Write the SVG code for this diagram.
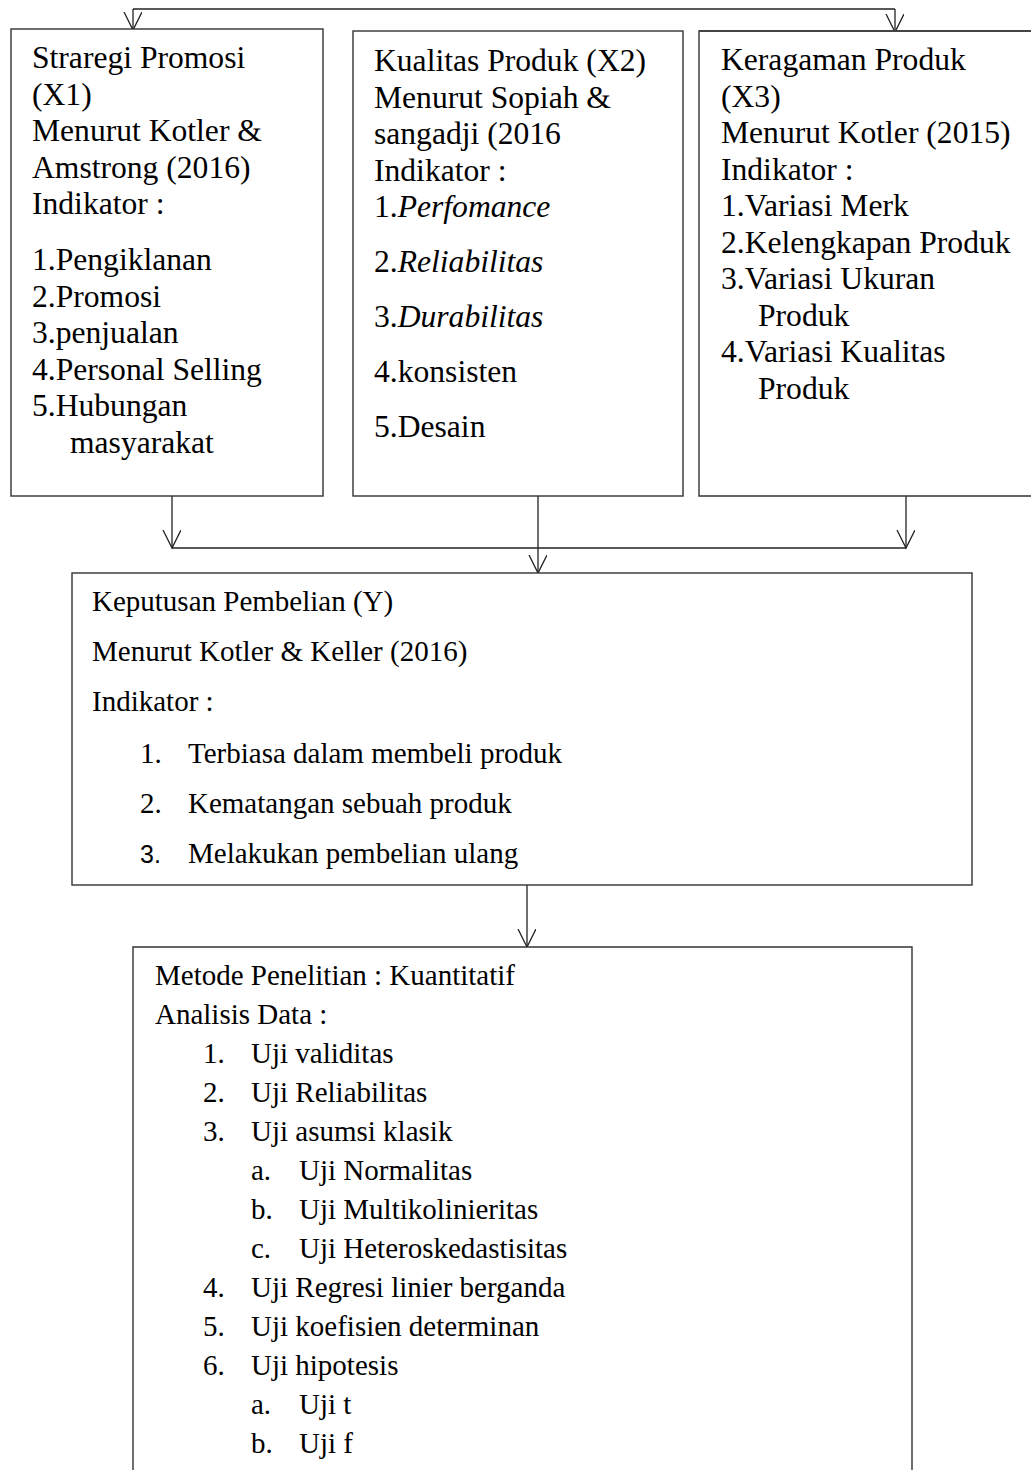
<svg xmlns="http://www.w3.org/2000/svg" width="1031" height="1470" viewBox="0 0 1031 1470">
<defs>
<style>
.box{fill:#fff;stroke:#333;stroke-width:1.4}
.ln{fill:none;stroke:#222;stroke-width:1.3}
.t{font-family:"Liberation Serif","Times New Roman",serif;font-size:31.6px;fill:#000}
.s{font-family:"Liberation Serif","Times New Roman",serif;font-size:29px;fill:#000}
.i{font-style:italic}
.sans{font-family:"Liberation Sans",Arial,sans-serif;font-size:25px}
</style>
<marker id="ah" markerWidth="20" markerHeight="22" refX="18" refY="9" orient="auto" markerUnits="userSpaceOnUse" viewBox="0 0 20 22">
<path d="M0,0 L18,9 L0,18" fill="none" stroke="#222" stroke-width="1.3"/>
</marker>
</defs>
<rect width="1031" height="1470" fill="#fff"/>

<g id="connectors">
<path class="ln" d="M133,9 H895"/>
<path class="ln" d="M133,9 V30" marker-end="url(#ah)"/>
<path class="ln" d="M895,9 V32" marker-end="url(#ah)"/>
<path class="ln" d="M172,496 V548" marker-end="url(#ah)"/>
<path class="ln" d="M906,496 V548" marker-end="url(#ah)"/>
<path class="ln" d="M172,548 H906"/>
<path class="ln" d="M538,494 V573" marker-end="url(#ah)"/>
<path class="ln" d="M527,885 V947" marker-end="url(#ah)"/>
</g>

<g id="node-x1">
<rect class="box" x="11" y="29" width="312" height="467"/>
<text class="t" x="32" y="68">Straregi Promosi</text>
<text class="t" x="32" y="104.5">(X1)</text>
<text class="t" x="32" y="141">Menurut Kotler &amp;</text>
<text class="t" x="32" y="177.5">Amstrong (2016)</text>
<text class="t" x="32" y="214">Indikator :</text>
<text class="t" x="32" y="270">1.Pengiklanan</text>
<text class="t" x="32" y="306.5">2.Promosi</text>
<text class="t" x="32" y="343">3.penjualan</text>
<text class="t" x="32" y="379.5">4.Personal Selling</text>
<text class="t" x="32" y="416">5.Hubungan</text>
<text class="t" x="70" y="452.5">masyarakat</text>
</g>

<g id="node-x2">
<rect class="box" x="353" y="31" width="330" height="465"/>
<text class="t" x="374" y="71">Kualitas Produk (X2)</text>
<text class="t" x="374" y="107.5">Menurut Sopiah &amp;</text>
<text class="t" x="374" y="144">sangadji (2016</text>
<text class="t" x="374" y="180.5">Indikator :</text>
<text class="t" x="374" y="217">1.<tspan class="i">Perfomance</tspan></text>
<text class="t" x="374" y="272">2.<tspan class="i">Reliabilitas</tspan></text>
<text class="t" x="374" y="327">3.<tspan class="i">Durabilitas</tspan></text>
<text class="t" x="374" y="382">4.konsisten</text>
<text class="t" x="374" y="437">5.Desain</text>
</g>

<g id="node-x3">
<path class="box" d="M1040,496 H699 V31 H1040"/>
<path d="M699,31 H1031" stroke="#444" stroke-width="2.2" fill="none"/>
<text class="t" x="721" y="70">Keragaman Produk</text>
<text class="t" x="721" y="106.5">(X3)</text>
<text class="t" x="721" y="143">Menurut Kotler (2015)</text>
<text class="t" x="721" y="179.5">Indikator :</text>
<text class="t" x="721" y="216">1.Variasi Merk</text>
<text class="t" x="721" y="252.5">2.Kelengkapan Produk</text>
<text class="t" x="721" y="289">3.Variasi Ukuran</text>
<text class="t" x="758" y="325.5">Produk</text>
<text class="t" x="721" y="362">4.Variasi Kualitas</text>
<text class="t" x="758" y="398.5">Produk</text>
</g>

<g id="node-y">
<rect class="box" x="72" y="573" width="900" height="312"/>
<text class="s" x="92" y="611">Keputusan Pembelian (Y)</text>
<text class="s" x="92" y="661">Menurut Kotler &amp; Keller (2016)</text>
<text class="s" x="92" y="711">Indikator :</text>
<text class="s" x="140" y="763">1.</text>
<text class="s" x="188" y="763">Terbiasa dalam membeli produk</text>
<text class="s" x="140" y="813">2.</text>
<text class="s" x="188" y="813">Kematangan sebuah produk</text>
<text class="s sans" x="140" y="863">3.</text>
<text class="s" x="188" y="863">Melakukan pembelian ulang</text>
</g>

<g id="node-metode">
<path class="box" d="M133,1480 V947 H912 V1480"/>
<text class="s" x="155" y="985">Metode Penelitian : Kuantitatif</text>
<text class="s" x="155" y="1024">Analisis Data :</text>
<text class="s" x="203" y="1063">1.</text><text class="s" x="251" y="1063">Uji validitas</text>
<text class="s" x="203" y="1102">2.</text><text class="s" x="251" y="1102">Uji Reliabilitas</text>
<text class="s" x="203" y="1141">3.</text><text class="s" x="251" y="1141">Uji asumsi klasik</text>
<text class="s" x="251" y="1180">a.</text><text class="s" x="299" y="1180">Uji Normalitas</text>
<text class="s" x="251" y="1219">b.</text><text class="s" x="299" y="1219">Uji Multikolinieritas</text>
<text class="s" x="251" y="1258">c.</text><text class="s" x="299" y="1258">Uji Heteroskedastisitas</text>
<text class="s" x="203" y="1297">4.</text><text class="s" x="251" y="1297">Uji Regresi linier berganda</text>
<text class="s" x="203" y="1336">5.</text><text class="s" x="251" y="1336">Uji koefisien determinan</text>
<text class="s" x="203" y="1375">6.</text><text class="s" x="251" y="1375">Uji hipotesis</text>
<text class="s" x="251" y="1414">a.</text><text class="s" x="299" y="1414">Uji t</text>
<text class="s" x="251" y="1453">b.</text><text class="s" x="299" y="1453">Uji f</text>
</g>
</svg>
